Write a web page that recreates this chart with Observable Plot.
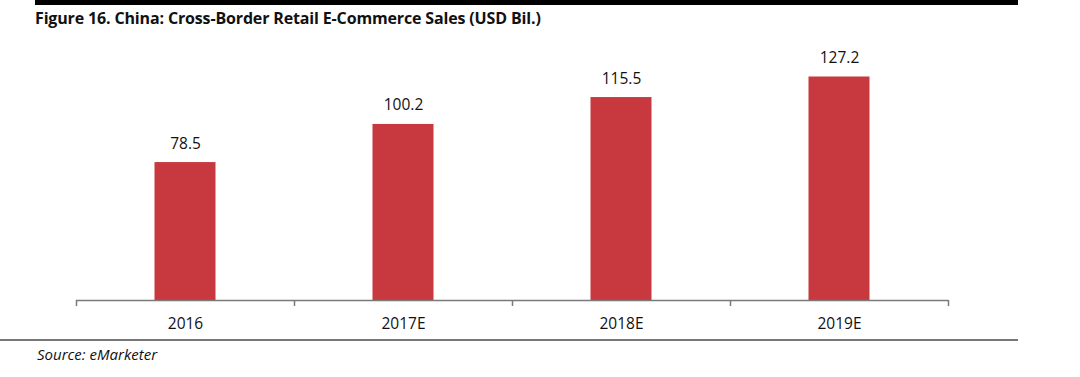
<!DOCTYPE html>
<html><head><meta charset="utf-8">
<script src="https://cdn.jsdelivr.net/npm/d3@7"></script>
<script src="https://cdn.jsdelivr.net/npm/@observablehq/plot@0.6"></script>
<style>
body{margin:0;background:#fff;width:1080px;height:377px;position:relative;overflow:hidden;font-family:"Open Sans",sans-serif;}
#topbar{position:absolute;left:35px;top:0;width:983px;height:5px;background:#000;}
#title{position:absolute;left:35px;top:7px;font-weight:bold;font-size:16px;color:#111;letter-spacing:-0.15px;}
#chart{position:absolute;left:0;top:0;}
#bottomline{position:absolute;left:0;top:339px;width:1018px;height:2px;background:#777;}
#source{position:absolute;left:37px;top:344px;font-style:italic;font-size:15px;color:#111;}
</style></head>
<body>
<div id="topbar"></div>
<div id="title">Figure 16. China: Cross-Border Retail E-Commerce Sales (USD Bil.)</div>
<div id="chart"></div>
<div id="bottomline"></div>
<div id="source">Source: eMarketer</div>
<script>
const years = ["2016", "2017E", "2018E", "2019E"];
const sales = [78.5, 100.2, 115.5, 127.2];
const data = years.map((y, i) => ({year: y, value: sales[i]}));

const W = 1080, ML = 76, MR = 132;
const step = (W - ML - MR) / years.length;
const barInset = (step - 61) / 2;

const chart = Plot.plot({
  width: W,
  height: 340,
  marginLeft: ML,
  marginRight: MR,
  marginTop: 54,
  marginBottom: 40,
  style: {fontFamily: "'Open Sans', sans-serif", fontSize: "15px", color: "#111", background: "transparent"},
  x: {domain: years, paddingInner: 0, paddingOuter: 0, label: null},
  y: {domain: [0, 140], axis: null},
  marks: [
    Plot.barY(data, {x: "year", y: "value", fill: "#c8393f", insetLeft: barInset, insetRight: barInset}),
    Plot.text(data, {x: "year", y: "value", text: d => d.value.toFixed(1), dy: -19, fontSize: 15.5, fill: "#111"}),
    Plot.ruleY([0], {stroke: "#7a7a7a", strokeWidth: 1.5}),
    Plot.axisX({ticks: years, tickSize: 6, text: null, dx: -step / 2, stroke: "#7a7a7a", strokeWidth: 1.5, strokeOpacity: 1, label: null}),
    Plot.axisX({ticks: [years[years.length - 1]], tickSize: 6, text: null, dx: step / 2, stroke: "#7a7a7a", strokeWidth: 1.5, strokeOpacity: 1, label: null}),
    Plot.axisX({tickSize: 0, tickPadding: 17, fontSize: 15.5, label: null, fill: "#111"}),
  ]
});
document.getElementById("chart").appendChild(chart);
</script>
</body></html>
